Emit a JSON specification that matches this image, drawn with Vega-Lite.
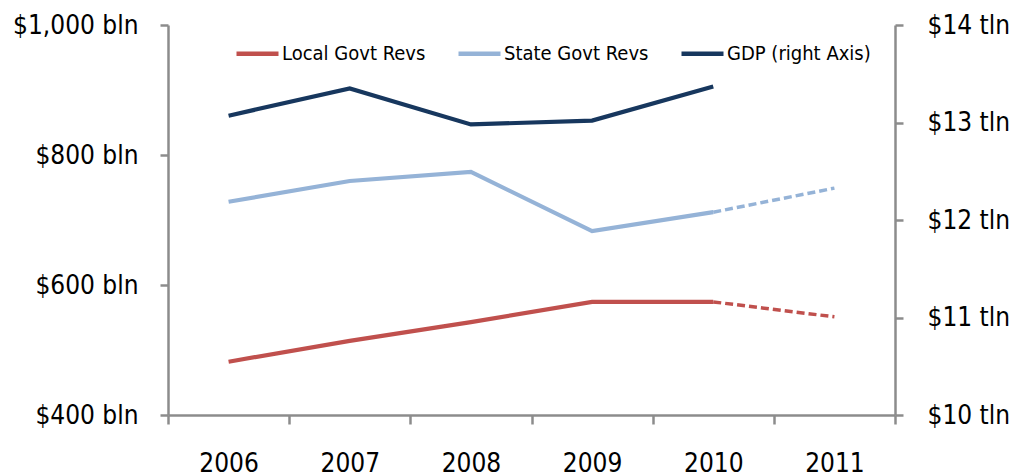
{
  "$schema": "https://vega.github.io/schema/vega-lite/v6.json",
  "width": 727,
  "height": 390,
  "autosize": {"type": "none"},
  "padding": {"left": 168, "top": 25, "right": 130, "bottom": 61},
  "background": "white",
  "config": {
    "view": {"stroke": null},
    "font": "DejaVu Sans Condensed",
    "axis": {
      "labelFont": "DejaVu Sans Condensed",
      "labelFontSize": 26,
      "labelColor": "#000000",
      "domainColor": "#8c8c8c",
      "domainWidth": 2.5,
      "tickColor": "#8c8c8c",
      "tickWidth": 2.5,
      "tickSize": 8,
      "grid": false,
      "title": null
    },
    "legend": {
      "labelFont": "DejaVu Sans Condensed",
      "labelFontSize": 20,
      "labelColor": "#000000"
    }
  },
  "data": {
    "values": [
      {"year": "2006", "series": "Local Govt Revs", "seg": "actual", "value": 482},
      {"year": "2007", "series": "Local Govt Revs", "seg": "actual", "value": 514},
      {"year": "2008", "series": "Local Govt Revs", "seg": "actual", "value": 543},
      {"year": "2009", "series": "Local Govt Revs", "seg": "actual", "value": 574},
      {"year": "2010", "series": "Local Govt Revs", "seg": "actual", "value": 574},
      {"year": "2010", "series": "Local Govt Revs", "seg": "forecast", "value": 574},
      {"year": "2011", "series": "Local Govt Revs", "seg": "forecast", "value": 551},
      {"year": "2006", "series": "State Govt Revs", "seg": "actual", "value": 728},
      {"year": "2007", "series": "State Govt Revs", "seg": "actual", "value": 760},
      {"year": "2008", "series": "State Govt Revs", "seg": "actual", "value": 774},
      {"year": "2009", "series": "State Govt Revs", "seg": "actual", "value": 683},
      {"year": "2010", "series": "State Govt Revs", "seg": "actual", "value": 712},
      {"year": "2010", "series": "State Govt Revs", "seg": "forecast", "value": 712},
      {"year": "2011", "series": "State Govt Revs", "seg": "forecast", "value": 749},
      {"year": "2006", "series": "GDP (right Axis)", "seg": "actual", "value": 13.07},
      {"year": "2007", "series": "GDP (right Axis)", "seg": "actual", "value": 13.35},
      {"year": "2008", "series": "GDP (right Axis)", "seg": "actual", "value": 12.98},
      {"year": "2009", "series": "GDP (right Axis)", "seg": "actual", "value": 13.02},
      {"year": "2010", "series": "GDP (right Axis)", "seg": "actual", "value": 13.37}
    ]
  },
  "encoding": {
    "x": {
      "field": "year",
      "type": "ordinal",
      "bandPosition": 0.5,
      "scale": {"type": "band", "domain": ["2006", "2007", "2008", "2009", "2010", "2011"], "paddingInner": 0, "paddingOuter": 0},
      "axis": {"labelAngle": 0, "tickBand": "extent", "labelPadding": 26, "tickSize": 9}
    },
    "color": {
      "field": "series",
      "type": "nominal",
      "scale": {
        "domain": ["Local Govt Revs", "State Govt Revs", "GDP (right Axis)"],
        "range": ["#C0504D", "#95B3D7", "#17375E"]
      },
      "legend": {
        "orient": "none",
        "legendX": 66,
        "legendY": 5,
        "direction": "horizontal",
        "title": null,
        "symbolType": "stroke",
        "symbolStrokeWidth": 4.5,
        "symbolSize": 1764,
        "columnPadding": 23,
        "labelOffset": 1
      }
    }
  },
  "layer": [
    {
      "transform": [{"filter": "datum.series !== 'GDP (right Axis)'"}],
      "encoding": {
        "y": {
          "field": "value",
          "type": "quantitative",
          "scale": {"domain": [400, 1000], "nice": false, "zero": false},
          "axis": {
            "orient": "left",
            "values": [400, 600, 800, 1000],
            "labelExpr": "'$' + format(datum.value, ',') + ' bln'",
            "labelPadding": 22
          }
        }
      },
      "layer": [
        {
          "transform": [{"filter": "datum.seg === 'actual'"}],
          "mark": {"type": "line", "strokeWidth": 4.2},
          "encoding": {"detail": {"field": "series"}}
        },
        {
          "transform": [{"filter": "datum.seg === 'forecast'"}],
          "mark": {"type": "line", "strokeWidth": 3.5, "strokeDash": [8, 4]},
          "encoding": {"detail": {"field": "series"}}
        }
      ]
    },
    {
      "transform": [{"filter": "datum.series === 'GDP (right Axis)'"}],
      "mark": {"type": "line", "strokeWidth": 4.2},
      "encoding": {
        "y": {
          "field": "value",
          "type": "quantitative",
          "scale": {"domain": [10, 14], "nice": false, "zero": false},
          "axis": {
            "orient": "right",
            "values": [10, 11, 12, 13, 14],
            "labelExpr": "'$' + datum.value + ' tln'",
            "labelPadding": 24
          }
        }
      }
    }
  ],
  "resolve": {"scale": {"y": "independent"}}
}
